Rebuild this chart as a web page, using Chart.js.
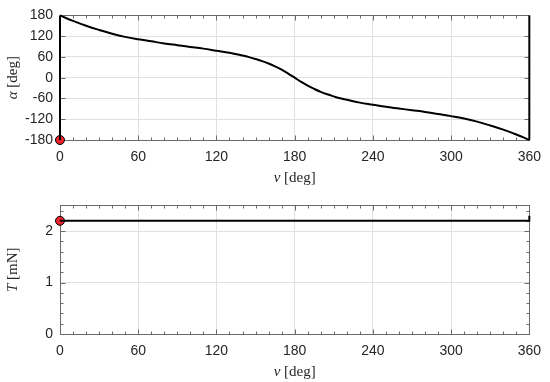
<!DOCTYPE html>
<html>
<head>
<meta charset="utf-8">
<script src="https://cdn.jsdelivr.net/npm/chart.js@4.4.1/dist/chart.umd.min.js"></script>
<style>
  html, body { margin: 0; padding: 0; background: #fff; }
  #wrap { position: relative; width: 550px; height: 382px; }
  .panel { position: absolute; left: 0; width: 550px; }
  #top-panel { top: 0; height: 190px; }
  #bottom-panel { top: 190px; height: 192px; }
</style>
</head>
<body>
<div id="wrap">
  <div class="panel" id="top-panel"><canvas id="alpha-chart"></canvas></div>
  <div class="panel" id="bottom-panel"><canvas id="thrust-chart"></canvas></div>
</div>
<script>
// thrust angle / thrust magnitude over one revolution (true anomaly nu)

const NU_DEG = [0, 10, 20, 30, 40, 50, 60, 70, 80, 90, 100, 110, 120, 130, 140, 145, 150, 155,
  160, 165, 170, 175, 180, 185, 190, 195, 200, 205, 210, 215, 220, 230, 240, 250, 260, 270,
  280, 290, 300, 310, 320, 330, 340, 350, 360];
const ALPHA_DEG = [180, 164, 150, 138, 127, 118, 111, 105, 99, 94, 89, 84, 78, 72, 64, 59.5, 54, 48,
  41, 32.5, 23, 12, 0, -12, -23, -32.5, -41, -48, -54, -59.5, -64, -72, -78, -84, -89, -94,
  -99, -105, -111, -118, -127, -138, -150, -164, -180];

// wrap-around jumps drawn at both ends of the alpha plot
const WRAP_NU = [0, 0, 180, 360, 360];
const WRAP_ALPHA = [-180, 180, null, -180, 180];

const T_NU = [0, 360, 360];
const T_MN = [2.2, 2.2, 2.3];

const START_NU = [0];
const START_ALPHA = [-180];
const START_T = [2.2];

const NU_TICKS = [0, 60, 120, 180, 240, 300, 360];
const ALPHA_TICKS = [-180, -120, -60, 0, 60, 120, 180];
const T_TICKS = [0, 1, 2];

const TEXT_COLOR = "#262626";
const AXIS_COLOR = "#6b6b6b";
const GRID_COLOR = "#e0e0e0";
const TICK_FONT = { family: "'Liberation Sans', Arial, sans-serif", size: 14 };
const TITLE_FONT = "'Liberation Serif', 'Times New Roman', serif";

function pts(xs, ys) {
  return xs.map((x, i) => ({ x, y: ys[i] }));
}

function fixedTicks(values) {
  return (scale) => {
    scale.ticks = values.map((v) => ({ value: v }));
  };
}

function drawMixed(ctx, parts, cx, cy, size) {
  const fonts = parts.map((p) => `${p.italic ? "italic " : ""}${size}px ${TITLE_FONT}`);
  let total = 0;
  const widths = parts.map((p, i) => {
    ctx.font = fonts[i];
    const w = ctx.measureText(p.text).width;
    total += w;
    return w;
  });
  let x = cx - total / 2;
  ctx.textBaseline = "middle";
  ctx.textAlign = "left";
  parts.forEach((p, i) => {
    ctx.font = fonts[i];
    ctx.fillText(p.text, x, cy);
    x += widths[i];
  });
}

function stepsIn(min, max, step) {
  return Math.floor((max - min) / step + 1e-6);
}

function isMajor(v, major) {
  return Math.abs(v / major - Math.round(v / major)) < 1e-6;
}

const matlabAxes = {
  id: "matlabAxes",
  beforeDatasetsDraw(chart, args, opts) {
    const { ctx, chartArea: a, scales } = chart;
    const L = Math.round(a.left) + 0.5, R = Math.round(a.right) + 0.5;
    const T = Math.round(a.top) + 0.5, B = Math.round(a.bottom) + 0.5;
    ctx.save();
    ctx.strokeStyle = AXIS_COLOR;
    ctx.lineWidth = 1;
    ctx.strokeRect(L, T, R - L, B - T);
    ctx.beginPath();
    const xs = scales.x, ys = scales.y;
    const nx = stepsIn(xs.min, xs.max, opts.xMinor);
    for (let k = 0; k <= nx; k++) {
      const v = xs.min + k * opts.xMinor;
      const len = isMajor(v, opts.xMajor) ? 5 : 3;
      const px = Math.round(xs.getPixelForValue(v)) + 0.5;
      ctx.moveTo(px, B); ctx.lineTo(px, B - len);
      ctx.moveTo(px, T); ctx.lineTo(px, T + len);
    }
    const ny = stepsIn(ys.min, ys.max, opts.yMinor);
    for (let k = 0; k <= ny; k++) {
      const v = ys.min + k * opts.yMinor;
      const len = isMajor(v, opts.yMajor) ? 5 : 3;
      const py = Math.round(ys.getPixelForValue(v)) + 0.5;
      ctx.moveTo(L, py); ctx.lineTo(L + len, py);
      ctx.moveTo(R, py); ctx.lineTo(R - len, py);
    }
    ctx.stroke();
    ctx.restore();
  },
  afterDraw(chart, args, opts) {
    const { ctx, chartArea: a } = chart;
    ctx.save();
    ctx.fillStyle = TEXT_COLOR;
    drawMixed(ctx, opts.xTitle, (a.left + a.right) / 2, a.bottom + opts.xTitleOffset, 15);
    ctx.translate(opts.yTitleX, (a.top + a.bottom) / 2);
    ctx.rotate(-Math.PI / 2);
    drawMixed(ctx, opts.yTitle, 0, 0, 15);
    ctx.restore();
  },
};

function axisX(height) {
  return {
    type: "linear",
    min: 0,
    max: 360,
    afterBuildTicks: fixedTicks(NU_TICKS),
    afterFit: (s) => { s.height = height; },
    grid: { color: GRID_COLOR, drawTicks: false },
    border: { display: false },
    ticks: { color: TEXT_COLOR, font: TICK_FONT, padding: 9, maxRotation: 0, autoSkip: false },
  };
}

function axisY(min, max, ticks) {
  return {
    type: "linear",
    min,
    max,
    afterBuildTicks: fixedTicks(ticks),
    afterFit: (s) => { s.width = 60; },
    grid: { color: GRID_COLOR, drawTicks: false },
    border: { display: false },
    ticks: { color: TEXT_COLOR, font: TICK_FONT, padding: 7, autoSkip: false },
  };
}

const lineStyle = {
  borderColor: "#000",
  borderWidth: 2,
  pointRadius: 0,
  fill: false,
  clip: 4,
};

const dotStyle = {
  showLine: false,
  pointRadius: 4.5,
  pointBackgroundColor: "#e8232a",
  pointBorderColor: "#000",
  pointBorderWidth: 1,
  clip: false,
};

new Chart(document.getElementById("alpha-chart"), {
  type: "line",
  data: {
    datasets: [
      { ...lineStyle, data: pts(NU_DEG, ALPHA_DEG), tension: 0.4 },
      { ...lineStyle, data: pts(WRAP_NU, WRAP_ALPHA), tension: 0, spanGaps: false },
      { ...dotStyle, data: pts(START_NU, START_ALPHA) },
    ],
  },
  options: {
    responsive: true,
    maintainAspectRatio: false,
    animation: false,
    layout: { padding: { top: 10, right: 16, left: 0, bottom: 0 } },
    scales: { x: axisX(50), y: axisY(-180, 180, ALPHA_TICKS) },
    plugins: {
      legend: { display: false },
      tooltip: { enabled: false },
      matlabAxes: {
        xMinor: 10, xMajor: 60, yMinor: 60, yMajor: 60,
        xTitle: [{ text: "ν", italic: true }, { text: " [deg]" }],
        xTitleOffset: 38,
        yTitle: [{ text: "α", italic: true }, { text: " [deg]" }],
        yTitleX: 13,
      },
    },
  },
  plugins: [matlabAxes],
});

new Chart(document.getElementById("thrust-chart"), {
  type: "line",
  data: {
    datasets: [
      { ...lineStyle, data: pts(T_NU, T_MN), tension: 0 },
      { ...dotStyle, data: pts(START_NU, START_T) },
    ],
  },
  options: {
    responsive: true,
    maintainAspectRatio: false,
    animation: false,
    layout: { padding: { top: 13, right: 16, left: 0, bottom: 0 } },
    scales: { x: axisX(48), y: axisY(0, 2.5, T_TICKS) },
    plugins: {
      legend: { display: false },
      tooltip: { enabled: false },
      matlabAxes: {
        xMinor: 10, xMajor: 60, yMinor: 0.2, yMajor: 1,
        xTitle: [{ text: "ν", italic: true }, { text: " [deg]" }],
        xTitleOffset: 38,
        yTitle: [{ text: "T", italic: true }, { text: " [mN]" }],
        yTitleX: 13,
      },
    },
  },
  plugins: [matlabAxes],
});
</script>
</body>
</html>
